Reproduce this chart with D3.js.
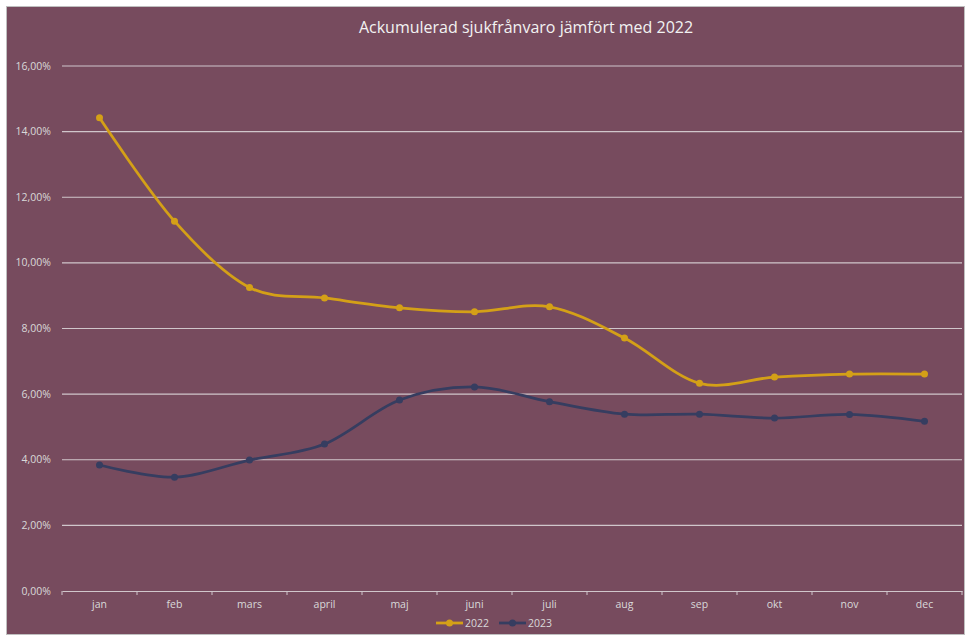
<!DOCTYPE html>
<html><head><meta charset="utf-8">
<script src="https://cdn.jsdelivr.net/npm/d3@7"></script>
<style>html,body{margin:0;padding:0;background:#fff;}svg{display:block;}</style>
</head><body>
<script>
const months = ["jan","feb","mars","april","maj","juni","juli","aug","sep","okt","nov","dec"];
const values2022 = [14.42, 11.27, 9.25, 8.93, 8.63, 8.51, 8.66, 7.71, 6.33, 6.52, 6.61, 6.61];
const values2023 = [3.84, 3.47, 3.99, 4.48, 5.82, 6.22, 5.77, 5.39, 5.39, 5.27, 5.38, 5.17];
const yTicks = [0, 2, 4, 6, 8, 10, 12, 14, 16];
const seriesNames = ["2022", "2023"];
const title = "Ackumulerad sjukfrånvaro jämfört med 2022";

const W = 965, H = 635;
const bg = "#774B5E", txt = "#D9D9D9", grid = "#D0C6CB";
const colors = ["#D4A017", "#363D60"];
const font = "'Open Sans', sans-serif";

const svg = d3.select("body").append("svg").attr("width", W).attr("height", H);
svg.append("rect").attr("x", 6.5).attr("y", 6.5).attr("width", W - 7).attr("height", H - 7)
  .attr("fill", bg).attr("stroke", "#BFBFBF").attr("stroke-width", 1);

svg.append("text").attr("x", 526).attr("y", 33).attr("text-anchor", "middle")
  .attr("fill", "#F2F2F2").attr("font-family", font).attr("font-size", 16).text(title);

const x = d3.scaleBand().domain(months).range([62, 962]);
const y = d3.scaleLinear().domain([0, 16]).range([591, 66]);

// gridlines
svg.append("g").selectAll("line").data(yTicks.filter(d => d > 0)).join("line")
  .attr("x1", 62).attr("x2", 962).attr("y1", d => y(d)).attr("y2", d => y(d))
  .attr("stroke", grid).attr("stroke-width", 1.2);

// y labels
svg.append("g").selectAll("text").data(yTicks).join("text")
  .attr("x", 51).attr("y", d => y(d) + 3.5).attr("text-anchor", "end")
  .attr("fill", txt).attr("font-family", font).attr("font-size", 10.5)
  .text(d => d.toFixed(2).replace(".", ",") + "%");

// x axis
const xAxis = d3.axisBottom(x).tickSize(0).tickPadding(10);
const gx = svg.append("g").attr("transform", `translate(0,${y(0)})`).call(xAxis);
gx.select(".domain").attr("stroke", grid).attr("stroke-width", 1.2);
gx.selectAll("text").attr("fill", txt).attr("font-family", font).attr("font-size", 10.5);
// category boundary ticks
const bounds = months.map(m => x(m)).concat([x.range()[1]]);
svg.append("g").selectAll("line").data(bounds).join("line")
  .attr("x1", d => d).attr("x2", d => d).attr("y1", y(0)).attr("y2", y(0) + 4)
  .attr("stroke", grid).attr("stroke-width", 1);

const cx = m => x(m) + x.bandwidth() / 2;
const line = d3.line().x((d, i) => cx(months[i])).y(d => y(d)).curve(d3.curveCatmullRom.alpha(0));

[values2022, values2023].forEach((vals, k) => {
  const g = svg.append("g");
  g.append("path").datum(vals).attr("d", line).attr("fill", "none")
    .attr("stroke", colors[k]).attr("stroke-width", 2.75).attr("stroke-linejoin", "round").attr("stroke-linecap", "round");
  g.selectAll("circle").data(vals).join("circle")
    .attr("cx", (d, i) => cx(months[i])).attr("cy", d => y(d)).attr("r", 3.5).attr("fill", colors[k]);
});

// legend
const legX = [436, 499];
seriesNames.forEach((n, k) => {
  const g = svg.append("g").attr("transform", `translate(${legX[k]},623)`);
  g.append("line").attr("x1", 0).attr("x2", 27).attr("stroke", colors[k]).attr("stroke-width", 2.75);
  g.append("circle").attr("cx", 13.5).attr("r", 3.5).attr("fill", colors[k]);
  g.append("text").attr("x", 29).attr("y", 3.5).attr("fill", txt).attr("font-family", font).attr("font-size", 10.5).text(n);
});
</script>
</body></html>
